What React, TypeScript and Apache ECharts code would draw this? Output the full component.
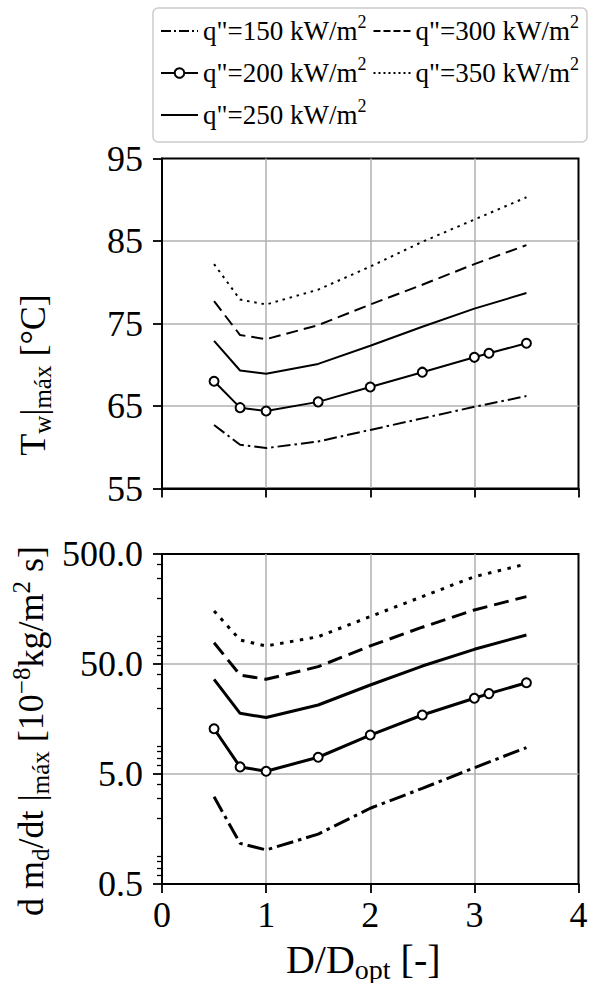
import React, { useEffect, useRef } from "react";
import * as echarts from "echarts";

// D/Dopt sample positions (the q"=200 case has one extra point near 3.14)
const ratios = [0.5, 0.75, 1, 1.5, 2, 2.5, 3, 3.5];
const ratiosMarked = [0.5, 0.75, 1, 1.5, 2, 2.5, 3, 3.14, 3.5];

const fluxNames = ['q"=150 kW/m²', 'q"=200 kW/m²', 'q"=250 kW/m²', 'q"=300 kW/m²', 'q"=350 kW/m²'];
// legend fills row by row: 150 | 300, 200 | 350, 250
const legendOrder = [0, 3, 1, 4, 2];

// maximum wall temperature [°C]
const wallTemp150 = [62.7, 60.3, 59.9, 60.7, 62.1, 63.5, 64.9, 66.2];
const wallTemp200 = [68.0, 64.8, 64.4, 65.5, 67.3, 69.1, 70.9, 71.4, 72.6];
const wallTemp250 = [72.9, 69.3, 68.9, 70.1, 72.3, 74.6, 76.8, 78.7];
const wallTemp300 = [77.7, 73.6, 73.1, 74.8, 77.3, 79.7, 82.2, 84.5];
const wallTemp350 = [82.2, 77.9, 77.3, 79.1, 81.9, 84.9, 87.6, 90.3];

// maximum deposition rate [1e-8 kg/m2 s]
const massRate150 = [3.1, 1.17, 1.02, 1.42, 2.44, 3.7, 5.7, 8.7];
const massRate200 = [12.9, 5.8, 5.3, 7.1, 11.3, 17.2, 24.4, 26.9, 33.8];
const massRate250 = [36.3, 17.8, 16.3, 21.2, 32.2, 47.9, 68, 91.8];
const massRate300 = [78, 39.7, 36.3, 47.3, 73, 108, 155, 205];
const massRate350 = [152, 82.6, 72.9, 88.5, 135, 205, 311, 406];

const tempTicks = [55, 65, 75, 85, 95];
const rateTicks = [0.5, 5, 50, 500];
const rateMinorTicks = [0.6, 0.7, 0.8, 0.9, 2, 3, 4, 6, 7, 8, 9, 20, 30, 40, 60, 70, 80, 90, 200, 300, 400];

const SERIF = "Liberation Serif";
const GRID_GRAY = "#b0b0b0";

const richTitle = {
  b: { fontFamily: SERIF, fontSize: 36, lineHeight: 44, color: "#000" },
  s: { fontFamily: SERIF, fontSize: 25, lineHeight: 25, verticalAlign: "bottom", color: "#000" },
  p: { fontFamily: SERIF, fontSize: 25, lineHeight: 25, verticalAlign: "top", color: "#000" },
};

const richXTitle = {
  b: { fontFamily: SERIF, fontSize: 40, lineHeight: 48, color: "#000" },
  s: { fontFamily: SERIF, fontSize: 28, lineHeight: 28, verticalAlign: "bottom", color: "#000" },
};

const richTick = { t: { fontFamily: SERIF, fontSize: 36, lineHeight: 40, color: "#000" } };

type Dash = "solid" | number[];
const topDash: Dash[] = [[13, 4, 2.5, 4], "solid", "solid", [12, 6], [2.5, 4.8]];
const bottomDash: Dash[] = [[17, 5, 3.5, 5], "solid", "solid", [15, 7], [3.5, 6.5]];
const legendDash: Dash[] = [[10, 3, 2, 3], "solid", "solid", [7, 3], [2, 3]];

const markerStyle = { color: "#fff", borderColor: "#000", borderWidth: 2 };
const noMarkerStyle = { color: "transparent", borderColor: "transparent", borderWidth: 0 };

function pairs(xs: number[], ys: number[]) {
  return xs.map((x, i) => [x, ys[i]]);
}

function makeSeries(panel: number, values: number[][]) {
  return values.map((ys, k) => {
    const marked = k === 1;
    return {
      type: "line",
      name: fluxNames[k],
      xAxisIndex: panel,
      yAxisIndex: panel,
      data: pairs(marked ? ratiosMarked : ratios, ys),
      symbol: marked ? "circle" : "none",
      showSymbol: marked,
      symbolSize: 9,
      itemStyle: marked ? markerStyle : noMarkerStyle,
      lineStyle: { color: "#000", width: panel === 0 ? 2 : 3, type: (panel === 0 ? topDash : bottomDash)[k] },
      emphasis: { disabled: true },
      silent: true,
      z: 3,
    };
  });
}

function xAxisFor(panel: number) {
  return {
    type: "value",
    gridIndex: panel,
    min: 0,
    max: 4,
    interval: 1,
    axisLine: { show: true, onZero: false, lineStyle: { color: "#000", width: 2 } },
    axisTick: { show: true, inside: false, length: 9, lineStyle: { color: "#000", width: 1.8 } },
    axisLabel: {
      show: panel === 1,
      margin: 11,
      fontFamily: SERIF,
      fontSize: 36,
      color: "#000",
      formatter: (v: number) => `{t|${v}}`,
      rich: richTick,
    },
    splitLine: { show: true, showMinLine: false, showMaxLine: false, lineStyle: { color: GRID_GRAY, width: 1.5 } },
    ...(panel === 1
      ? {
          name: "{b|D/D}{s|opt}{b| [-]}",
          nameLocation: "middle",
          nameGap: 51,
          nameTextStyle: { fontFamily: SERIF, fontSize: 40, lineHeight: 48, color: "#000", padding: [0, 14, 0, 0], rich: richXTitle },
        }
      : {}),
  };
}

const option = {
  animation: false,
  backgroundColor: "#fff",
  textStyle: { fontFamily: SERIF },
  grid: [
    { left: 162, right: 11.5, top: 158.5, height: 330, show: true, borderColor: "#000", borderWidth: 2, backgroundColor: "transparent", outerBoundsMode: "none" },
    { left: 162, right: 11.5, top: 554, height: 330, show: true, borderColor: "#000", borderWidth: 2, backgroundColor: "transparent", outerBoundsMode: "none" },
  ],
  legend: {
    left: 153,
    top: 8,
    width: 440,
    orient: "horizontal",
    itemGap: 6,
    itemWidth: 37,
    itemHeight: 12,
    padding: [5, 8, 9, 7],
    borderColor: "#cccccc",
    borderWidth: 1.5,
    borderRadius: 5,
    backgroundColor: "#fff",
    selectedMode: false,
    data: legendOrder.map((k) => ({
      name: fluxNames[k],
      itemStyle: k === 1 ? markerStyle : noMarkerStyle,
      lineStyle: { color: "#000", width: 2, type: legendDash[k] },
    })),
    formatter: (n: string) => `{r|${n.replace("²", "")}}{sup|2}`,
    textStyle: {
      fontFamily: SERIF,
      fontSize: 27,
      lineHeight: 36,
      color: "#000",
      rich: {
        r: { fontFamily: SERIF, fontSize: 27, lineHeight: 36, color: "#000" },
        sup: { fontFamily: SERIF, fontSize: 18, lineHeight: 18, verticalAlign: "top", color: "#000" },
      },
    },
  },
  xAxis: [xAxisFor(0), xAxisFor(1)],
  yAxis: [
    {
      type: "value",
      gridIndex: 0,
      position: "left",
      min: 55,
      max: 95,
      axisLine: { show: true, lineStyle: { color: "#000", width: 2 } },
      axisTick: { show: true, length: 9, customValues: tempTicks, lineStyle: { color: "#000", width: 1.8 } },
      axisLabel: {
        customValues: tempTicks,
        margin: 19,
        fontFamily: SERIF,
        fontSize: 36,
        color: "#000",
        formatter: (v: number) => `{t|${v}}`,
        rich: richTick,
      },
      splitLine: { show: true, showMinLine: false, showMaxLine: false, lineStyle: { color: GRID_GRAY, width: 1.5 } },
    },
    {
      type: "log",
      logBase: 10,
      gridIndex: 1,
      position: "left",
      min: 0.5,
      max: 500,
      axisLine: { show: true, lineStyle: { color: "#000", width: 2 } },
      axisTick: { show: true, length: 9, customValues: rateTicks, lineStyle: { color: "#000", width: 1.8 } },
      axisLabel: {
        customValues: rateTicks,
        margin: 19,
        fontFamily: SERIF,
        fontSize: 36,
        color: "#000",
        formatter: (v: number) => `{t|${Number(v).toFixed(1)}}`,
        rich: richTick,
      },
      splitLine: { show: true, showMinLine: false, showMaxLine: false, lineStyle: { color: GRID_GRAY, width: 1.5 } },
    },
    {
      // minor log ticks of the deposition-rate axis
      type: "log",
      logBase: 10,
      gridIndex: 1,
      position: "left",
      min: 0.5,
      max: 500,
      axisLine: { show: false },
      axisTick: { show: true, length: 5, customValues: rateMinorTicks, lineStyle: { color: "#000", width: 1.3 } },
      axisLabel: { show: false },
      splitLine: { show: false },
    },
  ],
  graphic: [
    {
      type: "text",
      x: 33,
      y: 375,
      rotation: Math.PI / 2,
      style: {
        text: "{b|T}{s|w}{b||}{s|máx}{b| [°C]}",
        rich: richTitle,
        fontFamily: SERIF,
        fontSize: 36,
        align: "center",
        verticalAlign: "middle",
        fill: "#000",
      },
    },
    {
      type: "text",
      x: 31,
      y: 731,
      rotation: Math.PI / 2,
      style: {
        text: "{b|d m}{s|d}{b|/dt |}{s|máx}{b| [10}{p|−8}{b|kg/m}{p|2}{b| s]}",
        rich: richTitle,
        fontFamily: SERIF,
        fontSize: 36,
        align: "center",
        verticalAlign: "middle",
        fill: "#000",
      },
    },
  ],
  series: [
    ...makeSeries(0, [wallTemp150, wallTemp200, wallTemp250, wallTemp300, wallTemp350]),
    ...makeSeries(1, [massRate150, massRate200, massRate250, massRate300, massRate350]),
  ],
};

export default function App() {
  const ref = useRef<HTMLDivElement>(null);
  useEffect(() => {
    if (!ref.current) return;
    const chart = echarts.init(ref.current, null, { renderer: "svg" });
    chart.setOption(option as any);
    return () => chart.dispose();
  }, []);
  return (
    <div
      ref={ref}
      style={{ position: "fixed", left: 0, top: 0, width: 590, height: 983, background: "#fff" }}
    />
  );
}
